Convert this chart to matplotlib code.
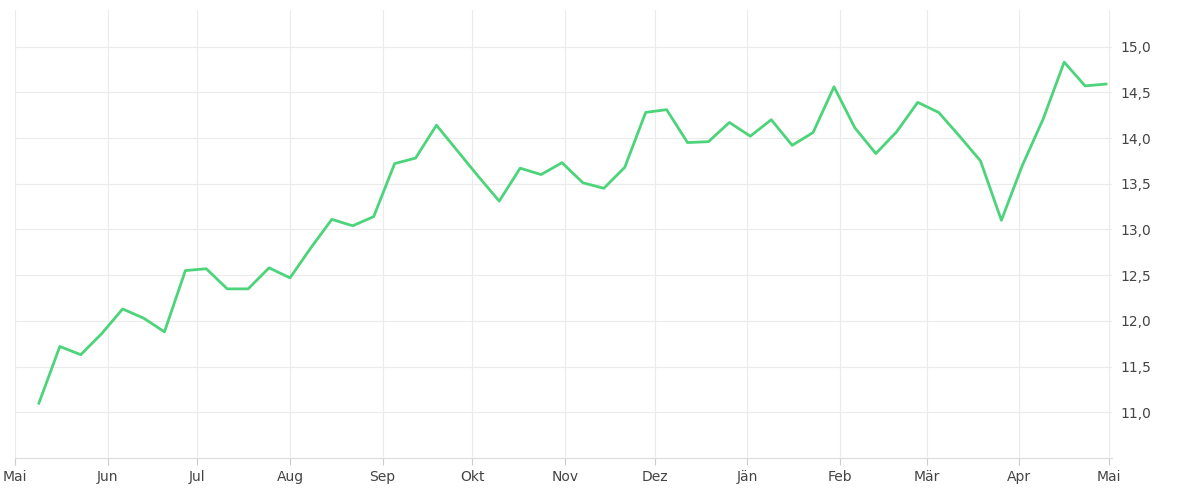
import matplotlib
matplotlib.use("Agg")
import matplotlib.pyplot as plt
import datetime as dt

start = dt.date(2023, 5, 9)
values = [11.10, 11.72, 11.63, 11.86, 12.13, 12.03, 11.88, 12.55, 12.57, 12.35,
          12.35, 12.58, 12.47, 12.80, 13.11, 13.04, 13.14, 13.72, 13.78, 14.14,
          13.86, 13.58, 13.31, 13.67, 13.60, 13.73, 13.51, 13.45, 13.68, 14.28,
          14.31, 13.95, 13.96, 14.17, 14.02, 14.20, 13.92, 14.06, 14.56, 14.11,
          13.83, 14.07, 14.39, 14.28, 14.02, 13.75, 13.10, 13.70, 14.21, 14.83,
          14.57, 14.59]
dates = [start + dt.timedelta(weeks=i) for i in range(len(values))]
month_labels = ["Mai", "Jun", "Jul", "Aug", "Sep", "Okt", "Nov", "Dez", "Jän", "Feb", "Mär", "Apr", "Mai"]
month_ticks = [dt.date(2023 + (5 + i - 1) // 12, (5 + i - 1) % 12 + 1, 1) for i in range(13)]
y_ticks = [11.0, 11.5, 12.0, 12.5, 13.0, 13.5, 14.0, 14.5, 15.0]

fig = plt.figure(figsize=(12, 5), dpi=100)
ax = fig.add_axes([15/1200, 42/500, (1112-15)/1200, (458-10)/500])
ax.plot(dates, values, color="#4cd47a", lw=2, solid_joinstyle="round")
ax.set_xticks(month_ticks)
ax.set_xticklabels(month_labels)
ax.set_yticks(y_ticks)
ax.set_yticklabels([f"{v:.1f}".replace(".", ",") for v in y_ticks])
ax.set_yticks([10.5], minor=True)
ax.set_xlim(dt.date(2023, 5, 1), dt.date(2024, 5, 2))
ax.set_ylim(10.5, 15.4)
ax.yaxis.tick_right()
ax.grid(True, which="both", color="#ebebeb", lw=0.8)
for s in ["top", "left", "right"]:
    ax.spines[s].set_visible(False)
ax.spines["bottom"].set_color("#dddddd")
ax.tick_params(axis="y", length=0, labelsize=10, colors="#444444", pad=6)
ax.tick_params(axis="y", which="minor", length=0)
ax.tick_params(axis="x", length=5, color="#cccccc", labelsize=10, colors="#444444")
fig.savefig("out.png")
